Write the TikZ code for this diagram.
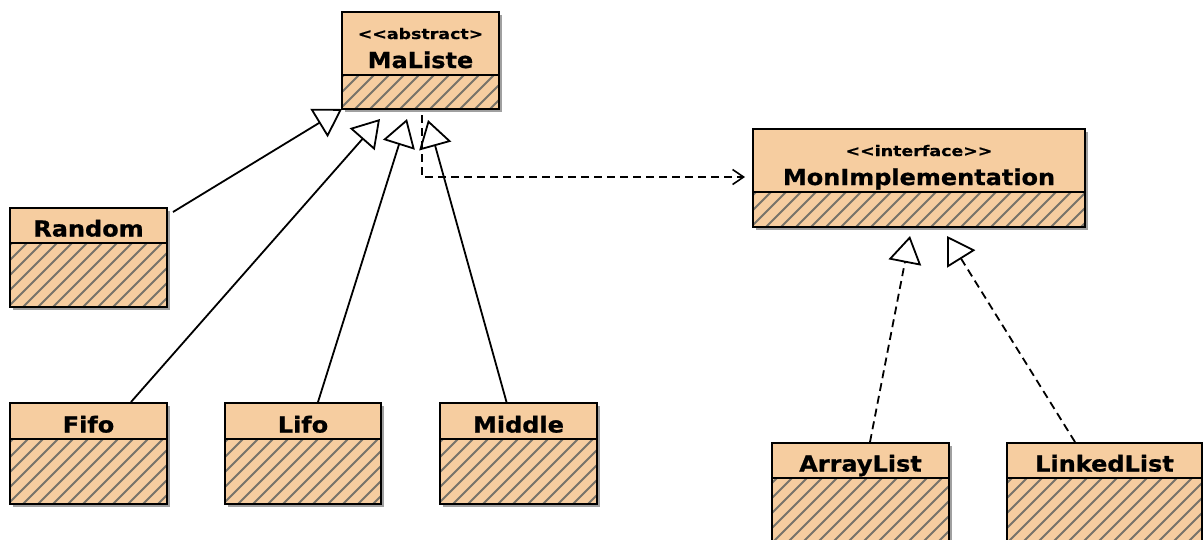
\documentclass[tikz,border=0pt]{standalone}
\usepackage{fontspec}
\usetikzlibrary{arrows.meta,fit,calc}
\newfontfamily\namefont[FakeStretch=1.09,FakeBold=0.8]{DejaVu Sans Bold}
\newfontfamily\stereofont[FakeStretch=1.2,FakeBold=0.6]{DejaVu Sans Bold}
\definecolor{peach}{RGB}{246,205,160}
\definecolor{hatchc}{RGB}{120,115,105}
\definecolor{shadowc}{RGB}{160,160,160}
\tikzset{
  classframe/.style={draw=black, line width=2pt, inner sep=0pt},
  divline/.style={draw=black, line width=1.6pt},
  hatchline/.style={draw=hatchc, line width=2pt},
  boxshadow/.style={fill=shadowc},
  namelabel/.style={anchor=base, inner sep=0pt, font=\namefont\fontsize{22}{26}\selectfont},
  stereolabel/.style={anchor=base, inner sep=0pt, font=\stereofont\fontsize{14.5}{17}\selectfont},
  gen/.style={line width=1.8pt, -{Triangle[open, length=27pt, width=33pt, line width=1.8pt]}},
  real/.style={gen, dash pattern=on 8pt off 5pt},
  dep/.style={line width=1.6pt, dash pattern=on 8pt off 5pt, -{Straight Barb[length=11pt, width=15pt, line width=1.6pt]}}
}
% name, x1, y1, x2, ydiv, y2
\newcommand\umlclass[6]{%
  \fill[boxshadow] (#2+3,#3+3) rectangle (#4+3,#6+3);
  \fill[peach] (#2,#3) rectangle (#4,#6);
  \begin{scope}
    \clip (#2,#5) rectangle (#4,#6);
    \foreach \k in {0,...,30} \draw[hatchline] (#2-80+\k*15,#6+3) -- ++(86,-86);
  \end{scope}
  \node[classframe, fit={(#2,#3) (#4,#6)}] (#1) {};
  \draw[divline] (#2,#5) -- (#4,#5);
}
\begin{document}
\begin{tikzpicture}[x=1pt,y=-1pt]
\fill[white] (0,0) rectangle (1203,539);
\clip (0,0) rectangle (1203,539);

% classes
\umlclass{maliste}{342}{12}{499}{75}{109}
\node[stereolabel] (maliste-st) at (420.5,39) {<<abstract>};
\node[namelabel] (maliste-nm) at (420.5,68) {MaListe};

\umlclass{monimpl}{753}{129}{1085}{192}{227}
\node[stereolabel] (monimpl-st) at (919,156) {<<interface>>};
\node[namelabel] (monimpl-nm) at (919,185) {MonImplementation};

\umlclass{random}{10}{208}{167}{243}{307}
\node[namelabel] (random-nm) at (88.5,236.5) {Random};

\umlclass{fifo}{10}{403}{167}{439}{504}
\node[namelabel] (fifo-nm) at (88.5,432.5) {Fifo};

\umlclass{lifo}{225}{403}{381}{439}{504}
\node[namelabel] (lifo-nm) at (303,432.5) {Lifo};

\umlclass{middle}{440}{403}{597}{439}{504}
\node[namelabel] (middle-nm) at (518.5,432.5) {Middle};

\umlclass{arraylist}{772}{443}{949}{478}{545}
\node[namelabel] (arraylist-nm) at (860.5,471.5) {ArrayList};

\umlclass{linkedlist}{1007}{443}{1202}{478}{545}
\node[namelabel] (linkedlist-nm) at (1104.5,471.5) {LinkedList};

% arrow tips
\coordinate (tR) at (342,109);
\coordinate (tF) at (380,119);
\coordinate (tL) at (407,119);
\coordinate (tM) at (428,120);
\coordinate (tA) at (910,236);
\coordinate (tK) at (947,236);
\coordinate (dEnd) at (745,177);

% generalizations
\draw[gen] ([xshift=5pt,yshift=-5pt]random.north east) -- (tR);
\draw[gen] ([xshift=42.5pt]fifo.north) -- (tF);
\draw[gen] ([xshift=15pt]lifo.north) -- (tL);
\draw[gen] ([xshift=-12pt]middle.north) -- (tM);

% realizations
\draw[real] ([xshift=9.5pt]arraylist.north) -- (tA);
\draw[real] ([xshift=-29.5pt]linkedlist.north) -- (tK);

% dependency
\draw[dep] ([xshift=1.5pt,yshift=-5pt]maliste.south) |- (dEnd);
\end{tikzpicture}
\end{document}
